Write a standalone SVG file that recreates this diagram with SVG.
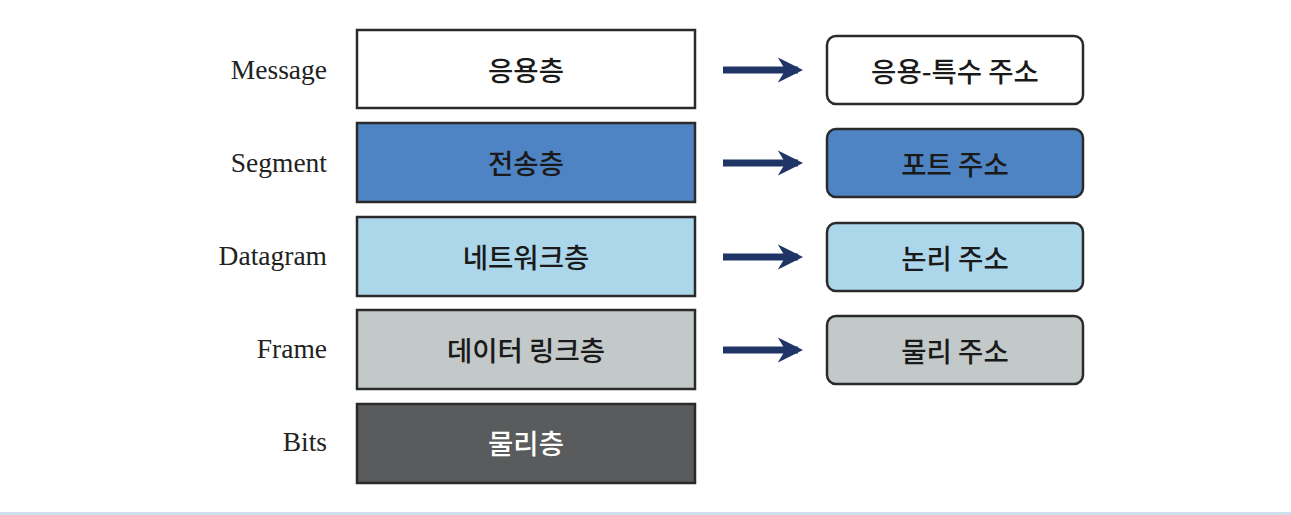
<svg xmlns="http://www.w3.org/2000/svg" width="1291" height="515" viewBox="0 0 1291 515">
<style>
.lbl{font-family:"Liberation Serif","Times New Roman",serif;font-size:27.5px;fill:#222;text-anchor:end;dominant-baseline:central}
.kt{font-family:"Noto Sans CJK KR","Noto Sans",sans-serif;font-size:27.5px;font-weight:500;fill:#1a1a1a;text-anchor:middle;dominant-baseline:central}
.box{stroke:#2a2a2a;stroke-width:2.5}
.abox{stroke:#2a2a2a;stroke-width:2.5}
.arr{stroke:#1f3566;stroke-width:7;fill:none}
</style>
<defs>
<marker id="ah" viewBox="0 0 10 10" refX="8" refY="5" markerWidth="3.6" markerHeight="3.8" orient="auto" markerUnits="strokeWidth">
<path d="M0,0 L10,5 L0,10 L3,5 Z" fill="#1f3566"/>
</marker>
</defs>
<rect width="1291" height="515" fill="#fff"/>
<g id="labels">
<text class="lbl" x="327" y="69">Message</text>
<text class="lbl" x="327" y="162">Segment</text>
<text class="lbl" x="327" y="255">Datagram</text>
<text class="lbl" x="327" y="348">Frame</text>
<text class="lbl" x="327" y="441">Bits</text>
</g>
<g id="layer-app"><rect class="box" x="357" y="30" width="338" height="78" fill="#fff"/><text class="kt" x="526" y="69">응용층</text></g>
<g id="layer-transport"><rect class="box" x="357" y="123" width="338" height="79" fill="#4f84c4"/><text class="kt" x="526" y="162">전송층</text></g>
<g id="layer-network"><rect class="box" x="357" y="217" width="338" height="79" fill="#acd6ea"/><text class="kt" x="526" y="256">네트워크층</text></g>
<g id="layer-datalink"><rect class="box" x="357" y="310" width="338" height="79" fill="#c3c9c8"/><text class="kt" x="526" y="349">데이터 링크층</text></g>
<g id="layer-physical"><rect class="box" x="357" y="404" width="338" height="79" fill="#595b5c"/><text class="kt" x="526" y="442" style="fill:#fff">물리층</text></g>
<g id="addr-app"><rect class="abox" x="827" y="36" width="256" height="68" rx="9" fill="#fff"/><text class="kt" x="955" y="70">응용-특수 주소</text></g>
<g id="addr-port"><rect class="abox" x="827" y="129" width="256" height="68" rx="9" fill="#4f84c4"/><text class="kt" x="955" y="163">포트 주소</text></g>
<g id="addr-logical"><rect class="abox" x="827" y="223" width="256" height="68" rx="9" fill="#acd6ea"/><text class="kt" x="955" y="257">논리 주소</text></g>
<g id="addr-physical"><rect class="abox" x="827" y="316" width="256" height="68" rx="9" fill="#c3c9c8"/><text class="kt" x="955" y="350">물리 주소</text></g>
<g id="connectors">
<line class="arr" x1="723" y1="70" x2="798" y2="70" marker-end="url(#ah)"/>
<line class="arr" x1="723" y1="163" x2="798" y2="163" marker-end="url(#ah)"/>
<line class="arr" x1="723" y1="257" x2="798" y2="257" marker-end="url(#ah)"/>
<line class="arr" x1="723" y1="350" x2="798" y2="350" marker-end="url(#ah)"/>
</g>
<rect x="0" y="512" width="1291" height="3" fill="#cfe0ee"/>
</svg>
